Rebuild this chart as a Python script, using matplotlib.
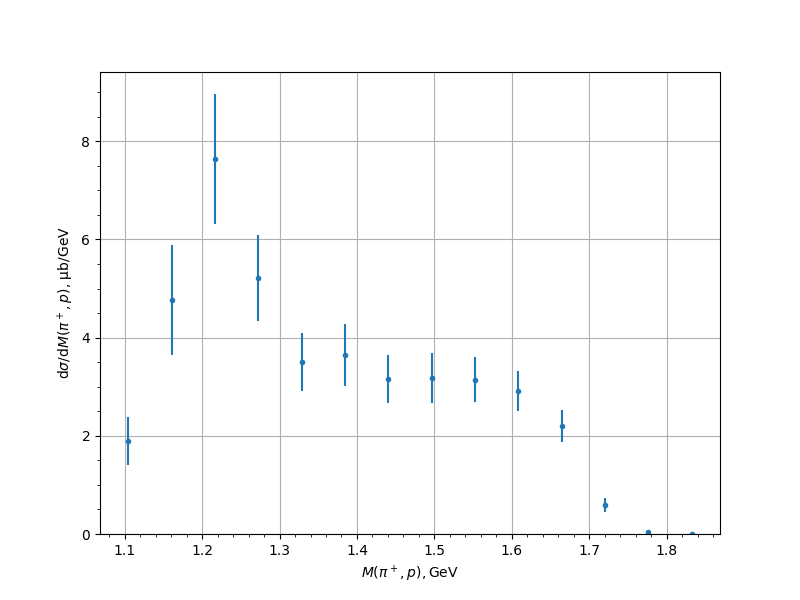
import numpy as np
import matplotlib
matplotlib.use('Agg')
import matplotlib.pyplot as plt

# bin centres of invariant mass, GeV
mass = [1.1045, 1.1605, 1.2165, 1.2725, 1.3285, 1.3845, 1.4405,
        1.4965, 1.5525, 1.6085, 1.6645, 1.7205, 1.7765, 1.8325]
# differential cross section, ub/GeV
xsec = [1.89, 4.77, 7.64, 5.21, 3.50, 3.65, 3.16,
        3.18, 3.14, 2.91, 2.20, 0.59, 0.04, 0.0]
xsec_err = [0.49, 1.12, 1.33, 0.88, 0.59, 0.63, 0.49,
            0.51, 0.46, 0.41, 0.33, 0.14, 0.02, 0.0]

fig = plt.figure(figsize=(8, 6), dpi=100)
plt.errorbar(mass, xsec, yerr=xsec_err, fmt='.')
plt.xlabel(r'$M(\pi^+, p), \mathrm{GeV}$')
plt.ylabel(r'$\mathrm{d}\sigma/\mathrm{d}M(\pi^+, p)$, μb/GeV')
plt.ylim(0, 9.41)
plt.minorticks_on()
plt.grid()
plt.savefig('out.png')
